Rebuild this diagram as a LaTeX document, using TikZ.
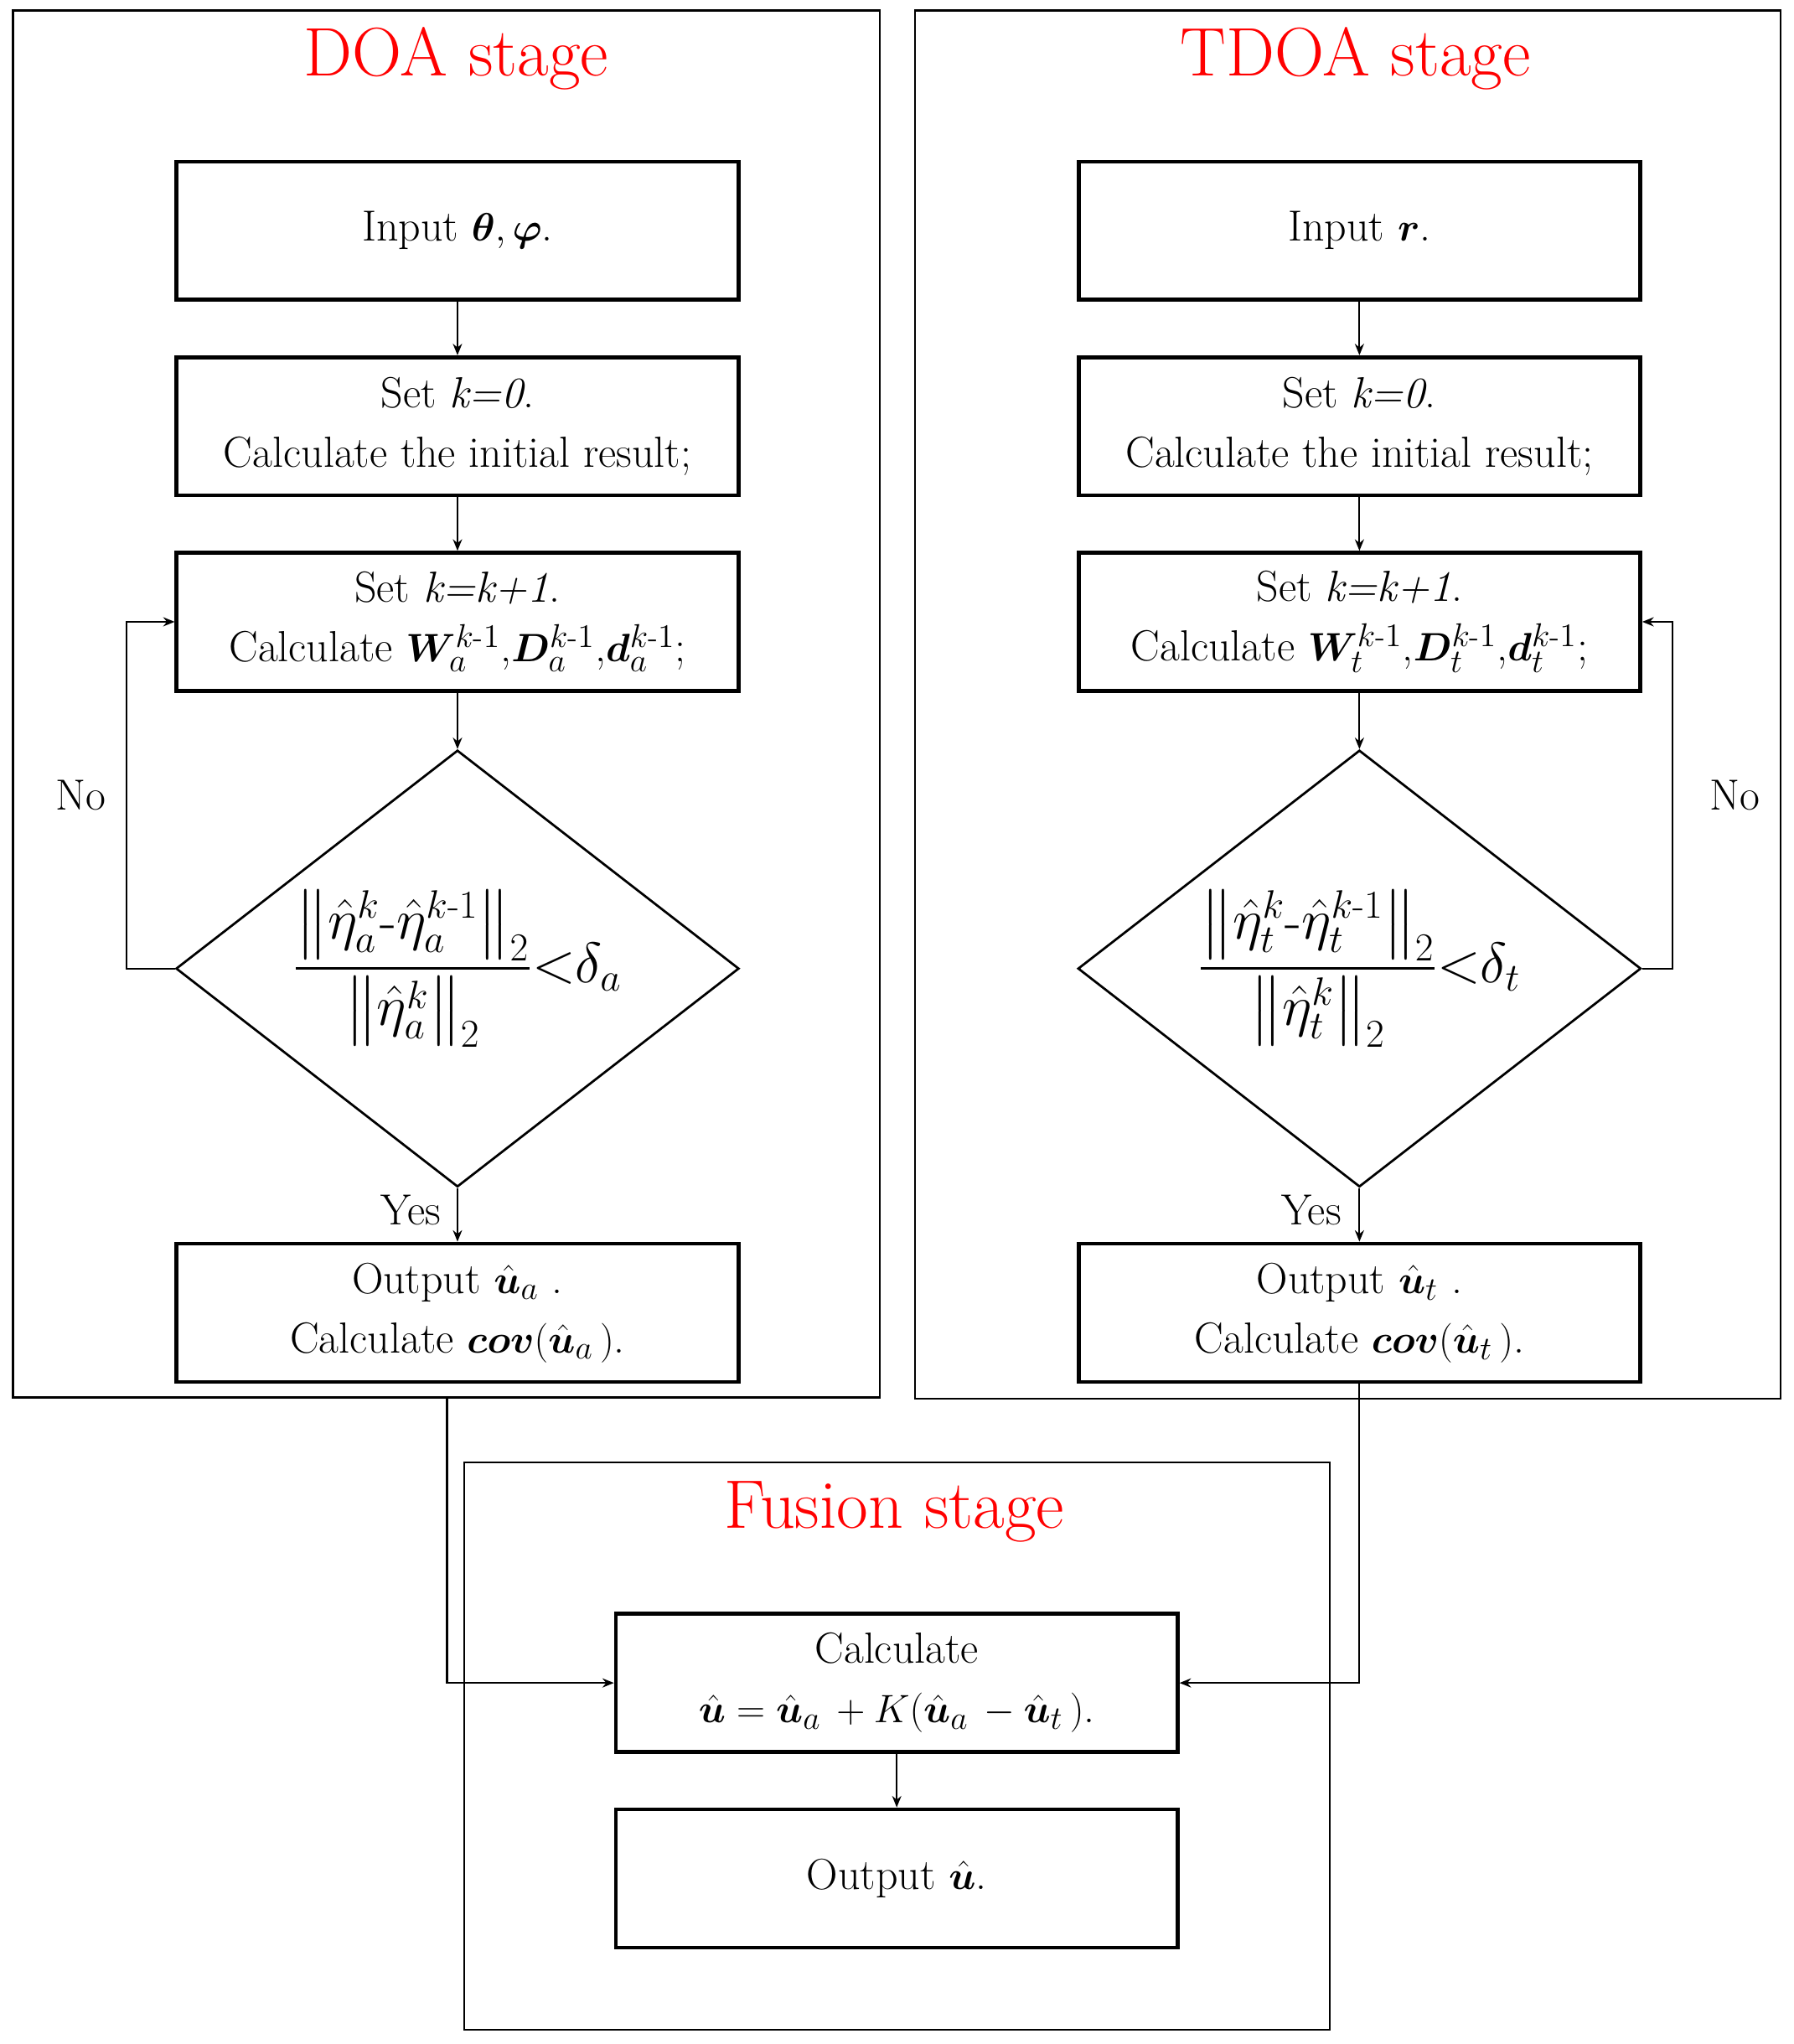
\documentclass[tikz,border=0pt]{standalone}
\usepackage{amsmath,bm}
\usetikzlibrary{shapes.geometric,arrows.meta}
\begin{document}
\begin{tikzpicture}[x=0.02cm,y=-0.02cm,
 frame/.style={draw,line width=0.8pt},
 box/.style={draw,line width=1.7pt,minimum width=431*0.02cm,minimum height=106*0.02cm,align=center,font=\fontsize{19}{26}\selectfont},
 dia/.style={draw,line width=1pt,diamond,minimum width=432*0.02cm,minimum height=335*0.02cm,inner sep=0pt,aspect=1.29,font=\fontsize{24}{28}\selectfont},
 title/.style={text=red,font=\fontsize{30}{34}\selectfont},
 lbl/.style={font=\fontsize{19}{22}\selectfont},
 arr/.style={-{Stealth[length=5pt,width=4pt]},line width=0.8pt},
 ln/.style={line width=0.8pt}]
\useasboundingbox (0,0) rectangle (1376,1568);
\draw[frame] (10,8) rectangle (675,1072);
\draw[frame] (702,8) rectangle (1366,1073);
\draw[frame] (356,1122) rectangle (1020,1557);
\node[title] (t1) at (350,45) {DOA stage};
\node[title] (t2) at (1040,45) {TDOA stage};
\node[title] (t3) at (686,1160) {Fusion stage};
% DOA
\node[box] (a1) at (351,177) {Input $\bm{\theta},\bm{\varphi}$.};
\node[box] (a2) at (351,327) {Set \textit{k=0}.\\Calculate the initial result;};
\node[box] (a3) at (351,477) {Set \textit{k=k+1}.\\Calculate $\bm{W}_a^{k\text{-}1}$,$\bm{D}_a^{k\text{-}1}$,$\bm{d}_a^{k\text{-}1}$;};
\node[dia] (a4) at (351,743) {$\dfrac{\big\|\hat\eta_a^k\text{-}\hat\eta_a^{k\text{-}1}\big\|_2}{\big\|\hat\eta_a^k\big\|_2}{<}\delta_a$};
\node[box] (a5) at (351,1007) {Output $\hat{\bm u}_a$ .\\Calculate $\bm{cov}(\hat{\bm u}_a\,)$.};
\draw[arr] (a1) -- (a2);
\draw[arr] (a2) -- (a3);
\draw[arr] (a3) -- (a4.north);
\draw[arr] (a4.south) -- (a5);
\draw[arr] (a4.west) -- (97,743) |- (a3.west);
\node[lbl] (n1) at (62,610) {No};
\node[lbl] (y1) at (315,928) {Yes};
% TDOA
\node[box] (b1) at (1043,177) {Input $\bm{r}$.};
\node[box] (b2) at (1043,327) {Set \textit{k=0}.\\Calculate the initial result;};
\node[box] (b3) at (1043,477) {Set \textit{k=k+1}.\\Calculate $\bm{W}_t^{k\text{-}1}$,$\bm{D}_t^{k\text{-}1}$,$\bm{d}_t^{k\text{-}1}$;};
\node[dia] (b4) at (1043,743) {$\dfrac{\big\|\hat\eta_t^k\text{-}\hat\eta_t^{k\text{-}1}\big\|_2}{\big\|\hat\eta_t^k\big\|_2}{<}\delta_t$};
\node[box] (b5) at (1043,1007) {Output $\hat{\bm u}_t$ .\\Calculate $\bm{cov}(\hat{\bm u}_t\,)$.};
\draw[arr] (b1) -- (b2);
\draw[arr] (b2) -- (b3);
\draw[arr] (b3) -- (b4.north);
\draw[arr] (b4.south) -- (b5);
\draw[arr] (b4.east) -- (1283,743) |- (b3.east);
\node[lbl] (n2) at (1331,610) {No};
\node[lbl] (y2) at (1006,928) {Yes};
% Fusion
\node[box] (c1) at (688,1291) {Calculate\\$\hat{\bm u}=\hat{\bm u}_a\,+K(\hat{\bm u}_a\,-\hat{\bm u}_t\,)$.};
\node[box] (c2) at (688,1441) {Output $\hat{\bm u}$.};
\draw[arr] (c1) -- (c2);
\coordinate (s1) at (343,1072);
\draw[arr] (s1) |- (c1.west);
\draw[arr] (b5.south) |- (c1.east);
\end{tikzpicture}
\end{document}
